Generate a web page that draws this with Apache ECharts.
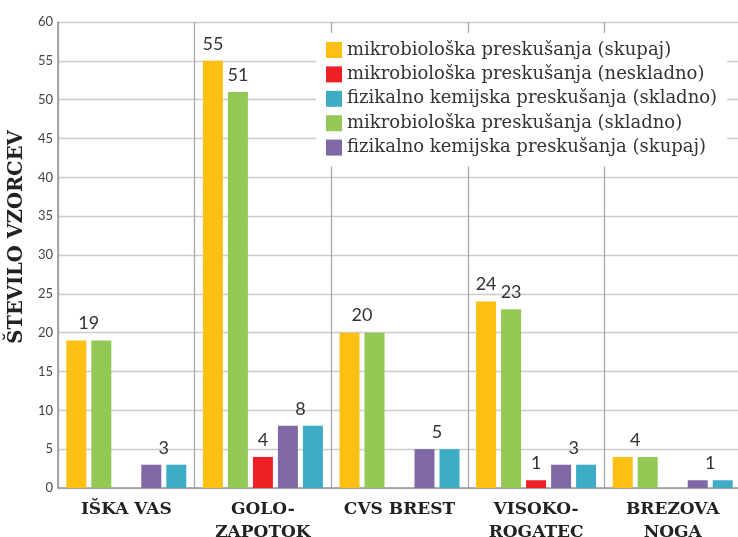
<!DOCTYPE html>
<html lang="sl">
<head>
    <meta charset="UTF-8">
    <title>Število vzorcev</title>
</head>
<body style="margin:0">
    <div id="chart" style="width: 738px;height: 537px"></div>
</body>
</html>
<script src="https://cdn.jsdelivr.net/npm/echarts@6/dist/echarts.min.js"></script>
<script>
    var categories = ['IŠKA VAS', 'GOLO-\nZAPOTOK', 'CVS BREST', 'VISOKO-\nROGATEC', 'BREZOVA\nNOGA'];
    var mikroSkupaj = [19, 55, 20, 24, 4];
    var mikroSkladno = [19, 51, 20, 23, 4];
    var mikroNeskladno = [0, 4, 0, 1, 0];
    var fizSkupaj = [3, 8, 5, 3, 1];
    var fizSkladno = [3, 8, 5, 3, 1];

    var names = {
        mikroSkupaj: 'mikrobiološka preskušanja (skupaj)',
        mikroNeskladno: 'mikrobiološka preskušanja (neskladno)',
        fizSkladno: 'fizikalno kemijska preskušanja (skladno)',
        mikroSkladno: 'mikrobiološka preskušanja (skladno)',
        fizSkupaj: 'fizikalno kemijska preskušanja (skupaj)'
    };

    var BAR_W = 20;
    var HALF = 12.5;   // pol razdalje med sosednjima stolpcema

    // oznaka nad parom: ce sta vrednosti enaki, ena oznaka na sredini para
    function pairLabels(a, b, first) {
        return (first ? a : b).map(function (v, i) {
            var same = a[i] === b[i];
            if (same && !first) return { value: v, label: { show: false } };
            return {
                value: v,
                label: { show: v > 0, offset: same ? [HALF, 0] : [0, 0] }
            };
        });
    }

    var labelStyle = {
        position: 'top',
        distance: 8,
        fontFamily: 'Lato',
        fontSize: 18,
        color: '#333'
    };

    function bar(key, color, data) {
        return {
            name: names[key],
            type: 'bar',
            barWidth: BAR_W,
            barGap: '25%',
            itemStyle: { color: color },
            label: labelStyle,
            data: data
        };
    }

    var chart = echarts.init(document.getElementById('chart'));
    chart.setOption({
        animation: false,
        grid: { left: 58, right: -3, top: 22, bottom: 49, outerBoundsMode: 'none' },
        legend: {
            orient: 'vertical',
            left: 316,
            top: 33,
            padding: [8, 10, 10, 10],
            backgroundColor: '#fff',
            itemWidth: 16,
            itemHeight: 16,
            itemGap: 6.4,
            icon: 'rect',
            textStyle: { fontFamily: 'DejaVu Serif', fontSize: 18, color: '#333' },
            data: [names.mikroSkupaj, names.mikroNeskladno, names.fizSkladno, names.mikroSkladno, names.fizSkupaj]
        },
        xAxis: {
            type: 'category',
            data: categories,
            axisTick: { show: false },
            axisLine: { lineStyle: { color: '#999', width: 1.5 } },
            splitLine: { show: true, lineStyle: { color: '#aaa', width: 1.3 } },
            axisLabel: {
                interval: 0,
                margin: 10,
                fontFamily: 'DejaVu Serif',
                fontWeight: 'bold',
                fontSize: 17,
                lineHeight: 23,
                color: '#222'
            }
        },
        yAxis: {
            type: 'value',
            min: 0,
            max: 60,
            interval: 5,
            name: 'ŠTEVILO VZORCEV',
            nameLocation: 'middle',
            nameGap: 28,
            nameTextStyle: {
                fontFamily: 'DejaVu Serif', fontWeight: 'bold', fontSize: 19.5, color: '#222',
                padding: [0, 0, 0, 36]
            },
            axisLine: { show: true, lineStyle: { color: '#999', width: 1.5 } },
            axisTick: { show: false },
            splitLine: { lineStyle: { color: '#ccc', width: 1.3 } },
            axisLabel: { margin: 5, fontFamily: 'Lato', fontSize: 13, color: '#444' }
        },
        series: [
            bar('mikroSkupaj', '#FBC013', pairLabels(mikroSkupaj, mikroSkladno, true)),
            bar('mikroSkladno', '#92C853', pairLabels(mikroSkupaj, mikroSkladno, false)),
            bar('mikroNeskladno', '#EE1F25', mikroNeskladno.map(function (v) {
                return { value: v, label: { show: v > 0 } };
            })),
            bar('fizSkupaj', '#7F68A5', pairLabels(fizSkupaj, fizSkladno, true)),
            bar('fizSkladno', '#3FACC6', pairLabels(fizSkupaj, fizSkladno, false))
        ]
    });
</script>
